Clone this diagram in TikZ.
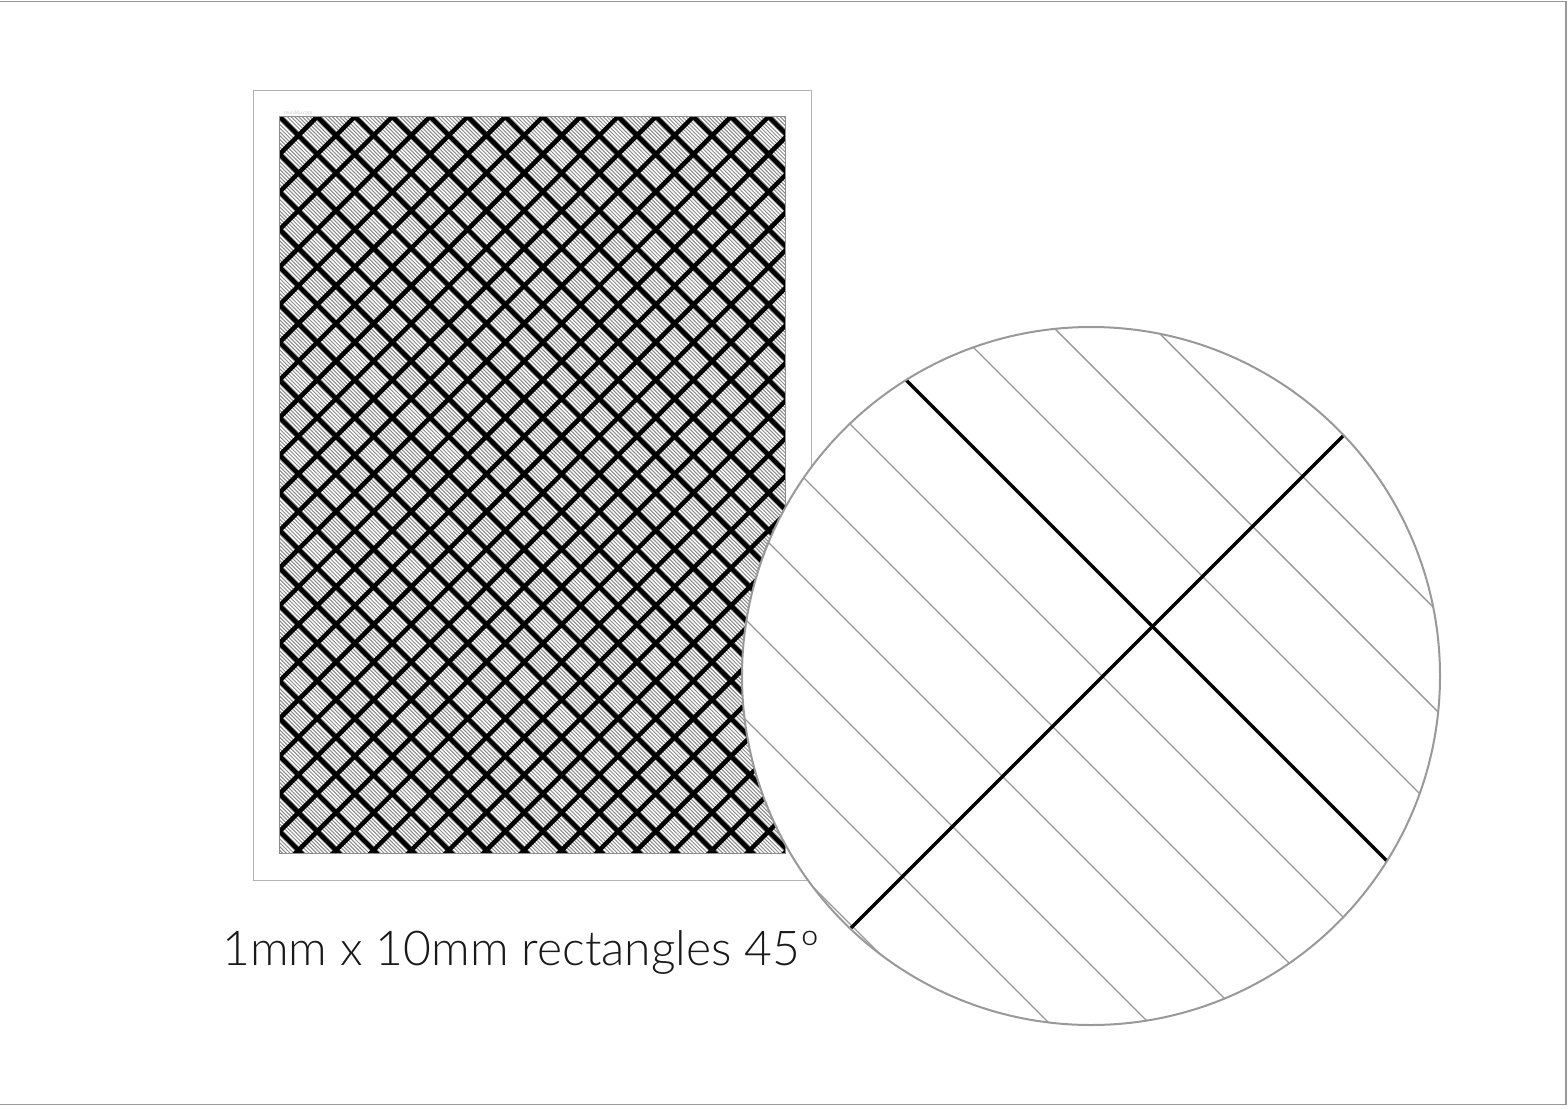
\documentclass[tikz,border=0pt]{standalone}
\usepackage{fontspec}
\setmainfont{Lato Light}
\tikzset{
  frame/.style={draw=black!40, line width=1.5pt},
  paper/.style={draw=black!30, line width=1pt},
  hatch/.style={draw=black!45, line width=1pt},
  bold/.style={draw=black, line width=4.5pt, line cap=round},
  zhatch/.style={draw=black!40, line width=1.4pt},
  zbold/.style={draw=black, line width=3.5pt},
  lens/.style={draw=black!40, line width=2pt}
}
\begin{document}
\begin{tikzpicture}[x=1pt,y=-1pt]
\useasboundingbox (0,0) rectangle (1568,1108);
\fill[white] (0,0) rectangle (1568,1108);
% outer frame
\draw[frame] (-5,1.5) -- (1566,1.5) -- (1566,1104.5) -- (-5,1104.5);
\def\s{2.66}
% A4 page
\draw[paper] (253,90) rectangle ++(210*\s,297*\s);
% grid with hatching
\begin{scope}[shift={(279.6,116.6)}]
  \begin{scope}
    \clip (0,0) rectangle (190*\s,277*\s);
    \foreach \i in {-197,...,136}{
      \pgfmathsetmacro\c{\i*1.41421*\s}
      \draw[hatch] (\c-10,-10) -- (\c+800,800);
    }
    \foreach \k in {-20,...,14}{
      \pgfmathsetmacro\c{\k*14.1421*\s}
      \draw[bold] (\c-10,-10) -- (\c+800,800);
    }
    \foreach \k in {0,...,34}{
      \pgfmathsetmacro\c{\k*14.1421*\s}
      \draw[bold] (\c+10,-10) -- (\c-800,800);
    }
  \end{scope}
  \draw[draw=black!45, line width=0.8pt] (0,0) rectangle (190*\s,277*\s);
  \node[anchor=south west, inner sep=0.5pt, font=\fontsize{5}{6}\selectfont, text=black!35] (wm) at (4,-1) {munddu.com};
\end{scope}
% magnifier circle
\fill[white] (1091,676) circle (349);
\begin{scope}
  \clip (1091,676) circle (349);
  \foreach \k in {-6,-5,-4,-3,-2,-1,1,2,3}{
    \pgfmathsetmacro\c{526+100*\k}
    \draw[zhatch] (\c+300,300) -- (\c+1050,1050);
  }
  \draw[zbold] (826,300) -- (1576,1050);
  \draw[zbold] (1479,300) -- (729,1050);
\end{scope}
\draw[lens] (1091,676) circle (349);
% caption
\node[anchor=base west, inner sep=0pt, font=\fontsize{48}{58}\selectfont, text=black!90] (cap) at (222,965) {1mm x 10mm rectangles 45º};
\end{tikzpicture}
\end{document}
